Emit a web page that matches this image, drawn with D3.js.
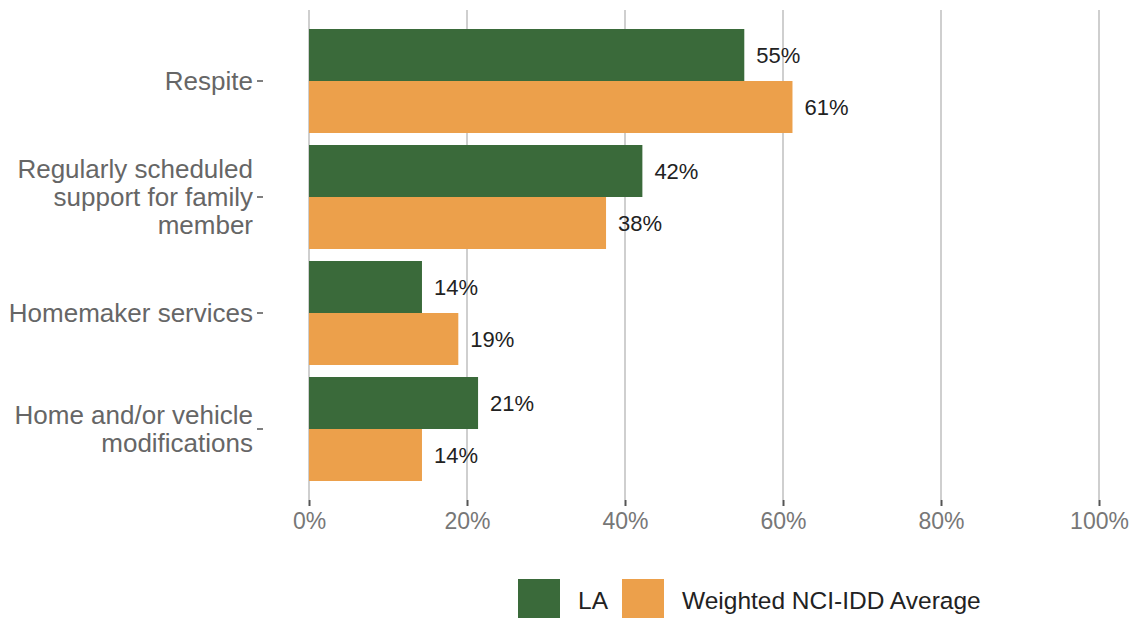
<!DOCTYPE html>
<html><head><meta charset="utf-8">
<script src="https://cdn.jsdelivr.net/npm/d3@7"></script>
<style>body{margin:0;background:#fff}svg{display:block;font-family:"Liberation Sans",Arial,sans-serif}</style>
</head><body><svg id="c" width="1136" height="618"></svg>
<script>
const categories = [["Respite"],["Regularly scheduled","support for family","member"],["Homemaker services"],["Home and/or vehicle","modifications"]];
const categoryKeys = ["Respite","Regularly scheduled support for family member","Homemaker services","Home and/or vehicle modifications"];
const seriesNames = ["LA","Weighted NCI-IDD Average"];
const laValues = [55.1, 42.2, 14.3, 21.4];
const nciValues = [61.2, 37.6, 18.9, 14.3];
const xTicks = [0,20,40,60,80,100];
const colors = ["#3a6a3a","#eca04b"];

const svg = d3.select("#c");
const x = d3.scaleLinear().domain([0,100]).range([309,1099]);
const y = d3.scaleBand().domain(categoryKeys).range([23,487]).paddingInner(12/116).paddingOuter(6/116);
const ySub = d3.scaleBand().domain(seriesNames).range([0,y.bandwidth()]);

// gridlines
svg.append("g").selectAll("line").data(xTicks).join("line")
  .attr("x1",d=>x(d)).attr("x2",d=>x(d)).attr("y1",10).attr("y2",500)
  .attr("stroke","#cfcfcf").attr("stroke-width",2);

// x axis
const xAxis = svg.append("g").attr("transform","translate(0,500)")
  .call(d3.axisBottom(x).tickValues(xTicks).tickFormat(d=>d+"%").tickSize(6).tickPadding(7));
xAxis.select(".domain").remove();
xAxis.selectAll(".tick line").attr("stroke","#555").attr("stroke-width",2);
xAxis.selectAll(".tick text").attr("fill","#777").attr("font-size",23)
  .attr("font-family","'Liberation Sans',Arial,sans-serif");

// y axis
const yAxis = svg.append("g").attr("transform","translate(263,0)")
  .call(d3.axisLeft(y).tickSize(6).tickPadding(4).tickFormat(""));
yAxis.select(".domain").remove();
yAxis.selectAll(".tick line").attr("stroke","#555").attr("stroke-width",1.5);
yAxis.selectAll(".tick").each(function(d,i){
  const lines = categories[i];
  const t = d3.select(this).append("text").attr("x",-10).attr("fill","#666")
    .attr("font-size",26).attr("text-anchor","end")
    .attr("font-family","'Liberation Sans',Arial,sans-serif");
  const lh = 28;
  const off = -(lines.length-1)*lh/2;
  lines.forEach((ln,j)=>{
    t.append("tspan").attr("x",-10).attr("y",off+j*lh).attr("dy","0.35em").text(ln);
  });
});

// bars
const data = categoryKeys.map((c,i)=>({c, vals:[laValues[i], nciValues[i]]}));
const groups = svg.append("g").selectAll("g").data(data).join("g")
  .attr("transform",d=>`translate(0,${y(d.c)})`);
groups.selectAll("rect").data(d=>d.vals.map((v,k)=>({v,k}))).join("rect")
  .attr("x",x(0)).attr("y",d=>ySub(seriesNames[d.k]))
  .attr("width",d=>x(d.v)-x(0)).attr("height",ySub.bandwidth())
  .attr("fill",d=>colors[d.k]);
groups.selectAll("text").data(d=>d.vals.map((v,k)=>({v,k}))).join("text")
  .attr("x",d=>x(d.v)+12).attr("y",d=>ySub(seriesNames[d.k])+ySub.bandwidth()/2)
  .attr("dy","0.35em").attr("font-size",22).attr("fill","#222")
  .text(d=>Math.round(d.v)+"%");

// legend
const leg = svg.append("g");
const legX = [518, 622];
const legTextX = [578, 682];
seriesNames.forEach((s,i)=>{
  leg.append("rect").attr("x",legX[i]).attr("y",579).attr("width",42).attr("height",42).attr("fill",colors[i]);
  leg.append("text").attr("x",legTextX[i]).attr("y",600).attr("dy","0.35em")
    .attr("font-size",24.5).attr("fill","#222").text(s);
});
</script></body></html>
